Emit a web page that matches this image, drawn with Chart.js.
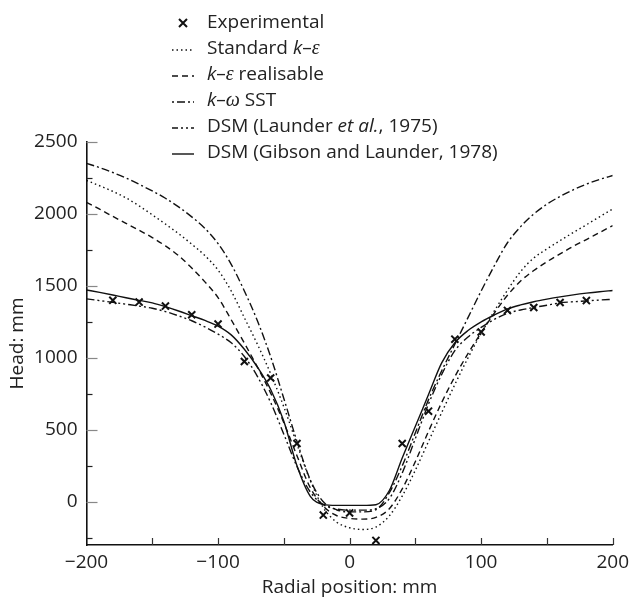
<!DOCTYPE html>
<html>
<head>
<meta charset="utf-8">
<script src="https://cdn.jsdelivr.net/npm/chart.js@4.4.0/dist/chart.umd.min.js"></script>
<style>
  html, body { margin: 0; padding: 0; background: #fff; }
  #wrap { width: 635px; height: 597px; }
</style>
</head>
<body>
<div id="wrap"><canvas id="head-chart" width="635" height="597"></canvas></div>
<script>
// radial stations where the model curves were sampled (mm)
const radialPos = [-200, -190, -180, -170, -160, -150, -140, -130, -120, -110, -100, -90, -80, -70, -60, -50, -40,
                   -30, -20, -10, 0, 10, 20, 30, 40, 50, 60, 70, 80, 90, 100, 110, 120, 130, 140, 150, 160,
                   170, 180, 190, 200];

const standardKE = [2233, 2196, 2157, 2112, 2056, 1994, 1930, 1863, 1790, 1711, 1610, 1465, 1279, 1093, 890, 660, 400,
                    150, -40, -140, -180, -192, -175, -100, 40, 220, 420, 620, 815, 1000, 1170, 1326, 1470, 1600, 1694, 1757, 1815,
                    1871, 1925, 1980, 2035];
const realisableKE = [2081, 2033, 1983, 1935, 1887, 1836, 1778, 1710, 1625, 1528, 1419, 1265, 1103, 935, 755, 550, 320,
                      100, -30, -95, -115, -120, -108, -50, 90, 280, 490, 690, 870, 1030, 1175, 1311, 1435, 1534, 1607, 1668, 1722,
                      1775, 1822, 1871, 1919];
const sstKW = [2352, 2322, 2288, 2250, 2206, 2160, 2109, 2049, 1980, 1900, 1794, 1650, 1465, 1256, 1008, 718, 420,
               155, 0, -55, -70, -70, -55, 60, 250, 480, 710, 910, 1095, 1280, 1465, 1640, 1800, 1912, 2000, 2068, 2122,
               2168, 2207, 2240, 2267];
const dsmLaunder = [1410, 1398, 1386, 1373, 1360, 1345, 1322, 1292, 1258, 1215, 1165, 1105, 1010, 870, 690, 470, 245,
                    70, -20, -50, -58, -58, -48, 20, 200, 440, 680, 885, 1050, 1145, 1212, 1268, 1310, 1333, 1350, 1366, 1382,
                    1390, 1396, 1402, 1407];
const dsmGibson = [1472, 1455, 1437, 1418, 1400, 1382, 1356, 1326, 1293, 1260, 1221, 1160, 1060, 935, 780, 560, 250,
                   40, -18, -25, -25, -25, -20, 75, 305, 525, 745, 965, 1105, 1190, 1250, 1298, 1340, 1368, 1390, 1408, 1424,
                   1438, 1450, 1460, 1468];

// measured heads
const expPos = [-180, -160, -140, -120, -100, -80, -60, -40, -20, 0, 20, 40, 60, 80, 100, 120, 140, 160, 180];
const expHead = [1400, 1388, 1360, 1300, 1235, 975, 860, 405, -92, -77, -268, 405, 630, 1130, 1180, 1330, 1350, 1385, 1398];

const xTicks = [-200, -100, 0, 100, 200];
const yTicks = [0, 500, 1000, 1500, 2000, 2500];

const FONT = '"Open Sans", "Noto Sans", sans-serif';
const INK = '#222';

function pts(xs, ys) {
    return xs.map((x, i) => ({ x: x, y: ys[i] }));
}

function curve(label, ys, dash) {
    return {
        label: label,
        data: pts(radialPos, ys),
        showLine: true,
        borderColor: '#111',
        borderWidth: 1.4,
        borderDash: dash,
        pointRadius: 0,
        cubicInterpolationMode: 'monotone',
        fill: false
    };
}

const datasets = [
    {
        label: 'Experimental',
        data: pts(expPos, expHead),
        showLine: false,
        pointStyle: 'crossRot',
        pointRadius: 5,
        borderColor: '#111',
        borderWidth: 2
    },
    curve('Standard k–ε', standardKE, [1.5, 3]),
    curve('k–ε realisable', realisableKE, [6, 4]),
    curve('k–ω SST', sstKW, [8, 3, 2, 3]),
    curve('DSM (Launder et al., 1975)', dsmLaunder, [8, 3, 2, 3, 2, 3]),
    curve('DSM (Gibson and Launder, 1978)', dsmGibson, [])
];

// legend rows: sample style + text pieces (italic pieces flagged)
const legendRows = [
    { sample: 'cross', parts: [['Experimental']] },
    { sample: [1.5, 3], parts: [['Standard '], ['k', 'i'], ['–'], ['ε', 'm']] },
    { sample: [6, 4], parts: [['k', 'i'], ['–'], ['ε', 'm'], [' realisable']] },
    { sample: [2, 3, 8, 3], parts: [['k', 'i'], ['–'], ['ω', 'm'], [' SST']] },
    { sample: [6, 3, 2, 3, 2, 3], parts: [['DSM (Launder '], ['et al.', 'i'], [', 1975)']] },
    { sample: [], parts: [['DSM (Gibson and Launder, 1978)']] }
];

const axisDecor = {
    id: 'axisDecor',
    afterDraw(chart) {
        const ctx = chart.ctx;
        const xs = chart.scales.x, ys = chart.scales.y;
        const area = chart.chartArea;
        ctx.save();
        // inward ticks on the radial axis every 50 mm
        ctx.strokeStyle = '#333';
        ctx.lineWidth = 1.2;
        for (let v = -150; v <= 200; v += 50) {
            const px = Math.round(xs.getPixelForValue(v)) + 0.5;
            ctx.beginPath();
            ctx.moveTo(px, area.bottom);
            ctx.lineTo(px, area.bottom - 7);
            ctx.stroke();
        }
        // inward ticks on the head axis, longer grey ones at labels
        for (let v = -250; v <= 2500; v += 250) {
            const py = Math.round(ys.getPixelForValue(v)) + 0.5;
            const major = v % 500 === 0;
            ctx.strokeStyle = major ? '#888' : '#222';
            ctx.beginPath();
            ctx.moveTo(area.left, py);
            ctx.lineTo(area.left + (major ? 11 : 6), py);
            ctx.stroke();
        }
        ctx.restore();
    }
};

const legendDraw = {
    id: 'legendDraw',
    afterDraw(chart) {
        const ctx = chart.ctx;
        const x0 = 172, x1 = 194, tx = 207;
        ctx.save();
        legendRows.forEach((row, i) => {
            const y = 23 + i * 26;
            ctx.strokeStyle = '#111';
            if (row.sample === 'cross') {
                ctx.lineWidth = 2;
                ctx.beginPath();
                ctx.moveTo(179, y - 4); ctx.lineTo(187, y + 4);
                ctx.moveTo(187, y - 4); ctx.lineTo(179, y + 4);
                ctx.stroke();
            } else {
                ctx.lineWidth = 1.4;
                ctx.setLineDash(row.sample);
                ctx.beginPath();
                ctx.moveTo(x0, y + 1);
                ctx.lineTo(x1, y + 1);
                ctx.stroke();
                ctx.setLineDash([]);
            }
            let cx = tx;
            ctx.fillStyle = INK;
            ctx.textBaseline = 'middle';
            row.parts.forEach(p => {
                if (p[1] === 'i') ctx.font = 'italic 19px ' + FONT;
                else if (p[1] === 'm') ctx.font = 'italic 20px "Liberation Serif", serif';
                else ctx.font = '19px ' + FONT;
                ctx.fillText(p[0], cx, y);
                cx += ctx.measureText(p[0]).width;
            });
        });
        ctx.restore();
    }
};

const headChart = new Chart(document.getElementById('head-chart'), {
    type: 'scatter',
    data: { datasets: datasets },
    options: {
        responsive: false,
        animation: false,
        layout: { padding: { top: 142, right: 19, left: 0, bottom: 0 } },
        plugins: {
            legend: { display: false },
            tooltip: { enabled: false }
        },
        scales: {
            x: {
                type: 'linear',
                min: -200,
                max: 200,
                afterBuildTicks: s => { s.ticks = xTicks.map(v => ({ value: v })); },
                afterFit: s => { s.height = 52; },
                grid: { display: false, drawTicks: false },
                border: { display: true, color: '#111', width: 1.6 },
                ticks: {
                    padding: 6,
                    color: INK,
                    font: { family: FONT, size: 19 },
                    callback: v => (v < 0 ? '\u2212' + Math.abs(v) : String(v))
                },
                title: {
                    display: true,
                    text: 'Radial position: mm',
                    color: INK,
                    font: { family: FONT, size: 19, lineHeight: 1.0 },
                    padding: { top: 0, bottom: 0 }
                }
            },
            y: {
                type: 'linear',
                min: -300,
                max: 2500,
                afterBuildTicks: s => { s.ticks = yTicks.map(v => ({ value: v })); },
                afterFit: s => { s.width = 86.5; },
                grid: { display: false, drawTicks: false },
                border: { display: true, color: '#111', width: 1.6 },
                ticks: {
                    padding: 9,
                    color: INK,
                    font: { family: FONT, size: 19 },
                    callback: v => String(v)
                },
                title: {
                    display: true,
                    text: 'Head: mm',
                    color: INK,
                    font: { family: FONT, size: 19 },
                    padding: { top: 6, bottom: 0 }
                }
            }
        }
    },
    plugins: [axisDecor, legendDraw]
});
</script>
</body>
</html>
